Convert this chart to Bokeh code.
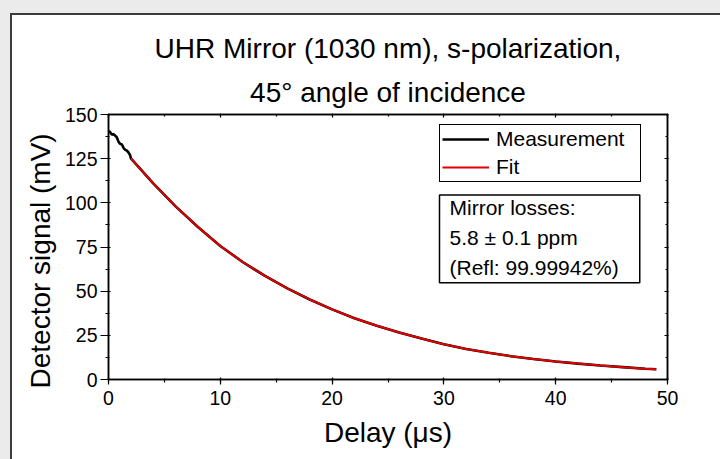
from bokeh.plotting import figure
from bokeh.models import (Range1d, LinearAxis, SingleIntervalTicker, Label,
                          Legend, LegendItem, Title, CustomJSTickFormatter)
from bokeh.embed import file_html
from bokeh.resources import INLINE

# ---------------- data ----------------
title_line1 = "UHR Mirror (1030 nm), s-polarization,"
title_line2 = "45° angle of incidence"
x_label = "Delay (μs)"
y_label = "Detector signal (mV)"
legend_labels = ["Measurement", "Fit"]
info_lines = ["Mirror losses:", "5.8 ± 0.1 ppm", "(Refl: 99.99942%)"]

x_major = 10
y_major = 25
x_limits = [0, 50]
y_limits = [0, 150]

# fitted ring-down
fit_delay = [2, 4, 6, 8, 10, 12, 14, 16, 18, 20, 22, 24, 26, 28, 30, 32,
             34, 36, 38, 40, 42, 44, 46, 48, 49]
fit_signal = [125.2, 111.0, 98.0, 86.3, 75.6, 66.5, 58.6, 51.6, 45.3, 39.7,
              34.7, 30.4, 26.6, 23.2, 19.9, 17.3, 15.1, 13.2, 11.6, 10.2,
              9.0, 7.9, 7.0, 6.1, 5.8]

# measured signal: noisy onset, then follows the decay
onset_delay = [0.0, 0.06, 0.15, 0.3, 0.45, 0.6, 0.75, 0.9, 1.05, 1.2, 1.35,
               1.5, 1.65, 1.8, 1.94]
onset_signal = [139.5, 140.5, 140.0, 138.6, 138.9, 138.0, 137.0, 134.5,
                133.4, 133.0, 131.0, 130.0, 129.5, 128.4, 126.8]
meas_delay = onset_delay + fit_delay
meas_signal = onset_signal + fit_signal

FONT = "Liberation Sans"

# ---------------- figure ----------------
p = figure(width=720, height=459, output_backend="svg", toolbar_location=None,
           title_location=None,
           x_range=Range1d(*x_limits), y_range=Range1d(*y_limits),
           min_border_left=108, min_border_right=53, min_border_top=114,
           min_border_bottom=80)
p.background_fill_color = "white"
p.border_fill_color = None
p.outline_line_color = "black"
p.outline_line_width = 1.5
p.grid.visible = False
p.styles = {
    "background": ("linear-gradient(#ebebeb,#ebebeb) 0 0/12px 13px no-repeat, "
                   "linear-gradient(to right,#ebebeb 10px,#3c3c3c 10px,#3c3c3c 12px,transparent 12px), "
                   "linear-gradient(to bottom,#ebebeb 13px,#3c3c3c 13px,#3c3c3c 15px,#ffffff 15px)")
}

def style_axis(ax, tick_out, tick_in, minor_out, minor_in):
    ax.axis_line_color = "black"
    ax.axis_line_width = 1.5
    ax.major_tick_line_color = "black"
    ax.minor_tick_line_color = "black"
    ax.major_tick_line_width = 1.2
    ax.minor_tick_line_width = 1.2
    ax.major_tick_out = tick_out
    ax.major_tick_in = tick_in
    ax.minor_tick_out = minor_out
    ax.minor_tick_in = minor_in
    ax.major_label_text_font = FONT
    ax.major_label_text_font_size = "19.5px"
    ax.major_label_text_color = "black"

p.xaxis.ticker = SingleIntervalTicker(interval=x_major, num_minor_ticks=2)
p.yaxis.ticker = SingleIntervalTicker(interval=y_major, num_minor_ticks=2)
for ax in p.xaxis:
    style_axis(ax, 5, 2, 3, 1)
for ax in p.yaxis:
    style_axis(ax, 8, 2, 3, 1)
p.xaxis.major_label_standoff = 6
p.yaxis.major_label_standoff = 3

p.xaxis.axis_label = x_label
p.xaxis.axis_label_text_font = FONT
p.xaxis.axis_label_text_font_size = "28px"
p.xaxis.axis_label_text_font_style = "normal"
p.xaxis.axis_label_text_color = "black"
p.xaxis.axis_label_standoff = 9

blank = CustomJSTickFormatter(code="return ''")
top = LinearAxis(ticker=SingleIntervalTicker(interval=x_major, num_minor_ticks=2),
                 formatter=blank)
right = LinearAxis(ticker=SingleIntervalTicker(interval=y_major, num_minor_ticks=2),
                   formatter=blank)
for ax in (top, right):
    style_axis(ax, 1, 3, 0, 2)
    ax.major_label_standoff = 0
p.add_layout(top, "above")
p.add_layout(right, "right")

# titles (closest to frame first)
p.add_layout(Title(text=title_line2, align="center", text_font=FONT,
                   text_font_size="28px", text_font_style="normal",
                   text_color="black", standoff=11), "above")
p.add_layout(Title(text=title_line1, align="center", text_font=FONT,
                   text_font_size="28px", text_font_style="normal",
                   text_color="black", standoff=11), "above")
# y label as a side title so it can be shifted along the axis
p.add_layout(Title(text=y_label, align="left", offset=-9, text_font=FONT,
                   text_font_size="28px", text_font_style="normal",
                   text_color="black", standoff=12), "left")

# ---------------- data lines ----------------
r_meas = p.line(meas_delay, meas_signal, line_color="black", line_width=2.6)
r_fit = p.line(fit_delay, fit_signal, line_color="#e00000", line_width=2.0)

legend = Legend(items=[LegendItem(label=legend_labels[0], renderers=[r_meas]),
                       LegendItem(label=legend_labels[1], renderers=[r_fit])],
                location=(331, 197), margin=0, padding=2, spacing=4,
                glyph_width=47, glyph_height=24, label_height=24,
                label_width=142, label_standoff=7,
                label_text_font=FONT, label_text_font_size="21px",
                label_text_color="black",
                border_line_color="black", border_line_width=1.5,
                border_line_alpha=1.0,
                background_fill_color="white", background_fill_alpha=1.0)
p.add_layout(legend)

info = Label(x=331, y=184.5, x_units="screen", y_units="screen",
             text="\n".join(info_lines), text_align="left",
             text_baseline="top", text_font=FONT, text_color="black",
             text_font_size="21px", text_line_height=1.3,
             border_line_color="black", border_line_width=1.5,
             background_fill_color="white",
             padding=dict(left=10, right=21, top=1, bottom=4))
p.add_layout(info)

open("out.html", "w").write(file_html(p, INLINE))
